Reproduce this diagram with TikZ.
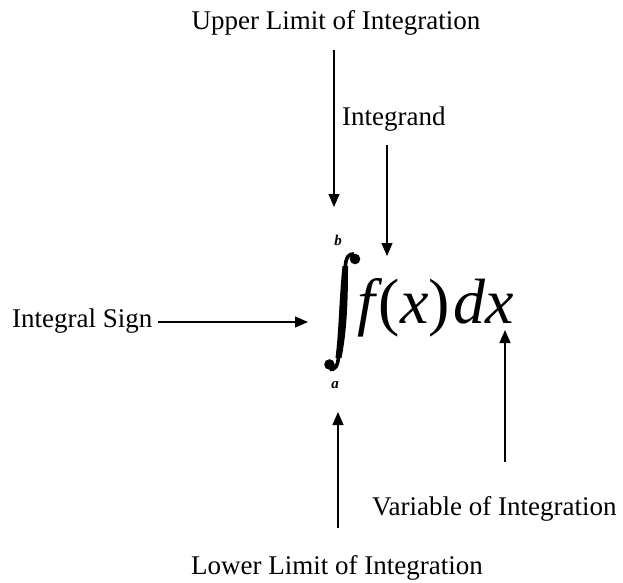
\documentclass[tikz,border=0pt]{standalone}
\usepackage{fontspec}
\setmainfont{Liberation Serif}
\usetikzlibrary{arrows.meta}
\begin{document}
\begin{tikzpicture}[x=1pt,y=-1pt,
  lbl/.style={inner sep=0pt, font=\fontsize{27}{30}\selectfont},
  arr/.style={line width=1.3pt, -{Triangle[length=13pt,width=11pt]}},
  lim/.style={inner sep=0pt, font=\fontsize{15}{15}\selectfont\itshape\bfseries},
  hook/.style={line width=3.6pt}]
\useasboundingbox[fill=white] (0,0) rectangle (623,582);
% labels
\node[lbl, anchor=base] (up) at (336,29) {Upper Limit of Integration};
\node[lbl, anchor=base west] (ig) at (342,125) {Integrand};
\node[lbl, anchor=base west] (is) at (12,327) {Integral Sign};
\node[lbl, anchor=base west] (var) at (372,515) {Variable of Integration};
\node[lbl, anchor=base] (low) at (337,574) {Lower Limit of Integration};
% limits
\node[lim] (b) at (338,240) {b};
\node[lim] (a) at (335,385) {a};
% integral sign drawn as a glyph
\coordinate (int) at (343,312);
\fill (342.5,266) .. controls (339,300) and (339,330) .. (335.5,358)
  -- (341.5,358) .. controls (347,330) and (348,300) .. (348,266) -- cycle;
\draw[hook] (345.3,268) .. controls (345.5,257) and (349,253.5) .. (354,254);
\fill (355,259) circle (5.3);
\draw[hook] (338.5,356) .. controls (338,366) and (335,370) .. (330,369.5);
\fill (329.5,364.5) circle (5.3);
% integrand and differential
\node[inner sep=0pt, anchor=base west] (fx) at (357,323)
  {\fontsize{64}{64}\selectfont\itshape f\kern4pt\upshape(\itshape x\upshape)\kern3pt\itshape dx};
% connector end points
\coordinate (u1) at (334,50);  \coordinate (u2) at (334,207);
\coordinate (i1) at (387,145); \coordinate (i2) at (387,256);
\coordinate (s1) at (158,322); \coordinate (s2) at (308,322);
\coordinate (l1) at (338,528); \coordinate (l2) at (338,412);
\coordinate (v1) at (505,462); \coordinate (v2) at (505,330);
% connectors
\draw[arr] (u1) -- (u2);
\draw[arr] (i1) -- (i2);
\draw[arr] (s1) -- (s2);
\draw[arr] (l1) -- (l2);
\draw[arr] (v1) -- (v2);
\end{tikzpicture}
\end{document}
